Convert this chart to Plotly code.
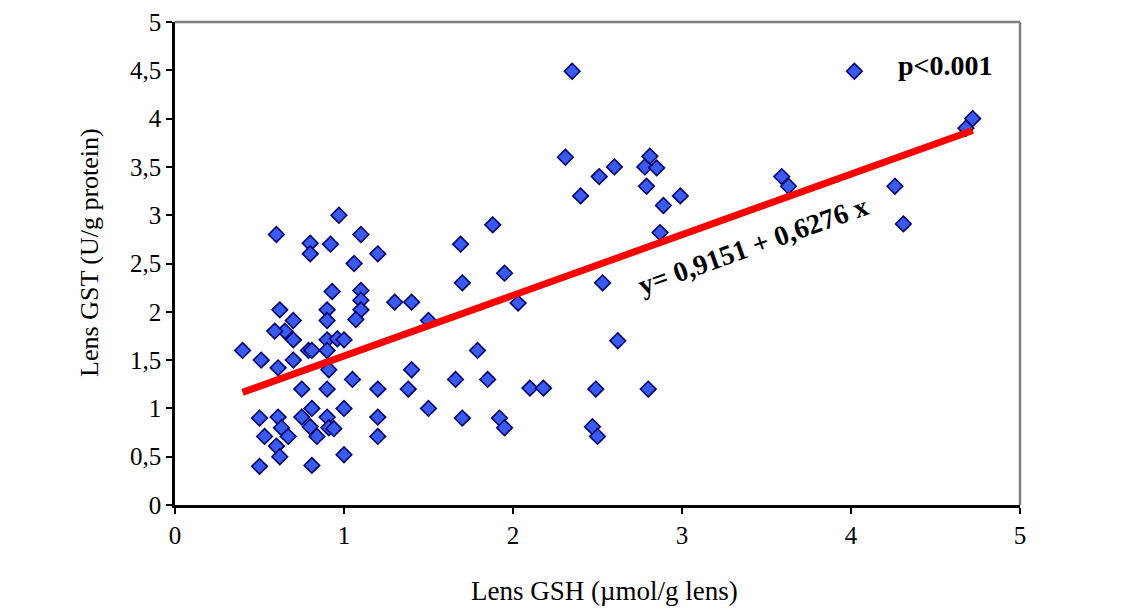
import plotly.graph_objects as go

# Lens GSH (µmol/g lens) and Lens GST (U/g protein) values
gsh = [0.40, 0.51, 0.61, 0.70, 0.70, 0.65, 0.59, 0.79, 0.81, 0.90, 0.96, 1.00, 0.90, 0.91,
       1.05, 0.75, 0.90, 0.81, 1.00, 0.50, 0.61, 0.75, 0.90, 0.63, 0.80, 0.91, 0.94, 0.53,
       0.67, 0.84, 0.60, 0.62, 1.00, 0.50, 0.81,
       0.97, 0.60, 1.10, 0.80, 0.80, 0.92, 1.06, 1.20, 0.93, 1.10, 1.10, 1.10, 1.07, 0.62,
       0.70, 0.90, 0.90,
       1.30, 1.40, 1.50, 1.40, 1.38, 1.20, 1.50, 1.20, 1.20, 1.69, 1.70, 1.88, 1.95, 2.03,
       1.79, 1.66, 1.85, 2.10, 2.18, 1.70, 1.92, 1.95,
       2.35, 2.31, 2.40, 2.51, 2.60, 2.81, 2.78, 2.85, 2.79, 2.89, 2.99, 2.87, 2.53, 2.62,
       2.49, 2.80, 2.47, 2.50,
       4.02, 4.72, 4.68, 3.59, 3.63, 4.26, 4.31]
gst = [1.60, 1.50, 1.42, 1.50, 1.71, 1.80, 1.80, 1.60, 1.60, 1.71, 1.72, 1.71, 1.60, 1.40,
       1.30, 1.20, 1.20, 1.00, 1.00, 0.90, 0.91, 0.91, 0.91, 0.80, 0.81, 0.80, 0.79, 0.71,
       0.71, 0.71, 0.61, 0.50, 0.52, 0.40, 0.41,
       3.00, 2.80, 2.80, 2.71, 2.60, 2.70, 2.50, 2.60, 2.21, 2.22, 2.12, 2.02, 1.92, 2.02,
       1.91, 2.02, 1.91,
       2.10, 2.10, 1.91, 1.40, 1.20, 1.20, 1.00, 0.91, 0.71, 2.70, 2.30, 2.90, 2.40, 2.09,
       1.60, 1.30, 1.30, 1.21, 1.21, 0.90, 0.90, 0.80,
       4.49, 3.60, 3.20, 3.40, 3.50, 3.61, 3.50, 3.49, 3.30, 3.10, 3.20, 2.82, 2.30, 1.70,
       1.20, 1.20, 0.81, 0.71,
       4.49, 4.00, 3.90, 3.40, 3.30, 3.30, 2.91]

# regression y = 0.9151 + 0.6276 x
intercept = 0.9151
slope = 0.6276
line_x = [0.40, 4.72]
line_y = [intercept + slope * v for v in line_x]

y_ticks = [0, 0.5, 1, 1.5, 2, 2.5, 3, 3.5, 4, 4.5, 5]
y_ticktext = ["0", "0,5", "1", "1,5", "2", "2,5", "3", "3,5", "4", "4,5", "5"]
x_ticks = [0, 1, 2, 3, 4, 5]

FONT = "Liberation Serif, Times New Roman, serif"

fig = go.Figure()
fig.add_trace(go.Scatter(
    x=gsh, y=gst, mode="markers",
    marker=dict(symbol="diamond", size=12, color="#3A5BF0",
                line=dict(color="#00006E", width=1.6)),
    showlegend=False, cliponaxis=False))
fig.add_trace(go.Scatter(
    x=line_x, y=line_y, mode="lines",
    line=dict(color="#FF0000", width=7), showlegend=False))

fig.add_annotation(x=3.42, y=2.69, xref="x", yref="y",
                   text="<b>y= 0,9151 + 0,6276 x</b>", showarrow=False,
                   textangle=-19.7, font=dict(family=FONT, size=28, color="black"))
fig.add_annotation(x=4.56, y=4.55, xref="x", yref="y",
                   text="<b>p<0.001</b>", showarrow=False,
                   font=dict(family=FONT, size=28, color="black"))

fig.add_annotation(x=0.508, y=-0.178, xref="paper", yref="paper",
                   xanchor="center", yanchor="middle",
                   text="Lens GSH (µmol/g lens)", showarrow=False,
                   font=dict(family=FONT, size=27, color="black"))
fig.add_annotation(x=-0.1006, y=0.524, xref="paper", yref="paper",
                   xanchor="center", yanchor="middle",
                   text="Lens GST (U/g protein)", showarrow=False, textangle=-90,
                   font=dict(family=FONT, size=26, color="black"))

# top and right grey frame
fig.add_shape(type="line", xref="paper", yref="paper", x0=0, x1=1, y0=1, y1=1,
              line=dict(color="#808080", width=2.5))
fig.add_shape(type="line", xref="paper", yref="paper", x0=1, x1=1, y0=0, y1=1,
              line=dict(color="#808080", width=2.5))

fig.update_xaxes(range=[0, 5], tickvals=x_ticks, showgrid=False, zeroline=False,
                 showline=True, linecolor="black", linewidth=2.5, automargin=False,
                 ticks="outside", ticklen=6, tickwidth=2, tickcolor="black",
                 tickfont=dict(family=FONT, size=25, color="black"))
fig.update_yaxes(range=[0, 5], tickvals=y_ticks, ticktext=y_ticktext, showgrid=False,
                 zeroline=False, showline=True, linecolor="black", linewidth=2.5,
                 automargin=False,
                 ticks="outside", ticklen=6, tickwidth=2, tickcolor="black",
                 tickfont=dict(family=FONT, size=25, color="black"))

fig.update_layout(width=1127, height=601, plot_bgcolor="white", paper_bgcolor="white",
                  margin=dict(l=167, r=115, t=14, b=104))

fig.write_html("out.html")
